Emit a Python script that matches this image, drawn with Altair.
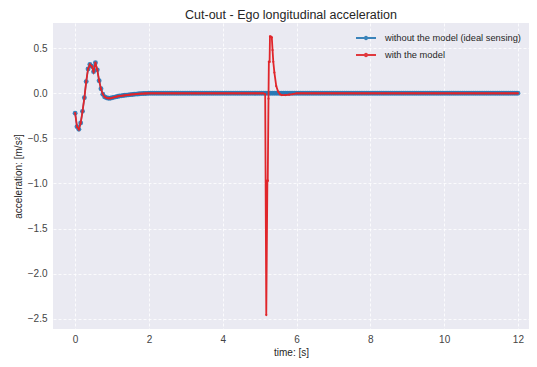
import altair as alt
import numpy as np
import pandas as pd

# ---- data ----
t_early = [0.00, 0.05, 0.10, 0.15, 0.20, 0.25, 0.30, 0.35, 0.40, 0.45,
           0.50, 0.55, 0.60, 0.65, 0.70, 0.75, 0.80, 0.85, 0.90, 0.95,
           1.00, 1.05, 1.10, 1.15, 1.20, 1.25, 1.30, 1.35, 1.40, 1.45,
           1.50, 1.55, 1.60, 1.65, 1.70, 1.75, 1.80, 1.85, 1.90, 1.95, 2.00]
a_early = [-0.22, -0.37, -0.40, -0.33, -0.20, -0.05, 0.13, 0.27, 0.32, 0.30,
           0.24, 0.34, 0.26, 0.14, 0.05, -0.01, -0.04, -0.05, -0.055, -0.055,
           -0.05, -0.045, -0.04, -0.035, -0.03, -0.028, -0.025, -0.022, -0.02, -0.018,
           -0.015, -0.013, -0.011, -0.009, -0.007, -0.005, -0.004, -0.003, -0.002, -0.001, 0.0]

# flat sections (value read as zero)
t_flat_blue = [round(2.05 + 0.05 * i, 2) for i in range(200)]   # 2.05 .. 12.00
a_flat_blue = [0.0] * len(t_flat_blue)

t_flat_red_a = [round(2.05 + 0.05 * i, 2) for i in range(62)]   # 2.05 .. 5.10
t_event = [5.15, 5.18, 5.21, 5.22, 5.24, 5.25, 5.27, 5.28, 5.30, 5.33,
           5.35, 5.37, 5.40, 5.45, 5.50, 5.55, 5.60, 5.70, 5.80, 5.90, 6.00]
a_event = [-0.01, -2.46, -0.97, -0.97, -0.06, 0.35, 0.35, 0.63, 0.63, 0.62,
           0.48, 0.35, 0.23, 0.08, 0.02, -0.01, -0.02, -0.02, -0.015, -0.01, 0.0]
t_flat_red_b = [round(6.05 + 0.05 * i, 2) for i in range(120)]  # 6.05 .. 12.00

S_BLUE = "without the model (ideal sensing)"
S_RED = "with the model"

blue = pd.DataFrame({"t": t_early + t_flat_blue,
                     "a": a_early + a_flat_blue,
                     "series": S_BLUE})
red = pd.DataFrame({"t": t_early + t_flat_red_a + t_event + t_flat_red_b,
                    "a": a_early + [0.0] * len(t_flat_red_a) + a_event + [0.0] * len(t_flat_red_b),
                    "series": S_RED})

# legend glyph: a line with a small dot in the middle
glyph = "M-1,0L1,0M-0.12,0A0.12,0.12 0 1,0 0.12,0A0.12,0.12 0 1,0 -0.12,0"

color = alt.Color("series:N",
                  scale=alt.Scale(domain=[S_BLUE, S_RED], range=["#2878b5", "#e0262b"]),
                  legend=alt.Legend(title=None, orient="none", legendX=302, legendY=4,
                                    symbolType=glyph, symbolSize=400, symbolStrokeWidth=2,
                                    labelFont="Liberation Sans", labelFontSize=9.3,
                                    labelColor="#262626", labelOffset=8, rowPadding=-10,
                                    padding=0))

x = alt.X("t:Q", title="time: [s]",
          scale=alt.Scale(domain=[-0.6, 12.3], nice=False, zero=False),
          axis=alt.Axis(values=[0, 2, 4, 6, 8, 10, 12], format="d"))
y = alt.Y("a:Q", title="acceleration: [m/s²]",
          scale=alt.Scale(domain=[-2.615, 0.78], nice=False, zero=False),
          axis=alt.Axis(values=[-2.5, -2.0, -1.5, -1.0, -0.5, 0.0, 0.5], format=".1f"))

bl = alt.Chart(blue).mark_line(strokeWidth=1.5, clip=True).encode(x=x, y=y, color=color, order="t:Q")
bp = alt.Chart(blue).mark_circle(size=24, opacity=0.9, clip=True).encode(x=x, y=y, color=color)
rl = alt.Chart(red).mark_line(strokeWidth=1.8, clip=True).encode(x=x, y=y, color=color, order="t:Q")
rp = alt.Chart(red).mark_circle(size=5, opacity=1, clip=True).encode(x=x, y=y, color=color)

chart = alt.layer(bl, bp, rl, rp).properties(
    width=476, height=306,
    autosize=alt.AutoSizeParams(type="none"),
    padding={"left": 45, "top": 15, "right": 0, "bottom": 30},
    title=alt.TitleParams("Cut-out - Ego longitudinal acceleration",
                          font="Liberation Sans", fontSize=12.5, fontWeight="normal",
                          color="#262626", offset=2, anchor="middle"),
).configure_view(fill="#EAEAF2", stroke=None).configure_axis(
    grid=True, gridColor="#ffffff", gridDash=[3, 2], gridWidth=0.8,
    domain=False, ticks=False,
    labelFont="Liberation Sans", labelFontSize=10, labelColor="#444444",
    titleFont="Liberation Sans", titleFontSize=10, titleFontWeight="normal",
    titleColor="#262626",
).configure_axisY(labelPadding=6, titlePadding=4).configure_axisX(labelPadding=5, titlePadding=3)

chart.save("out.html", embed_options={"renderer": "svg", "actions": False})
